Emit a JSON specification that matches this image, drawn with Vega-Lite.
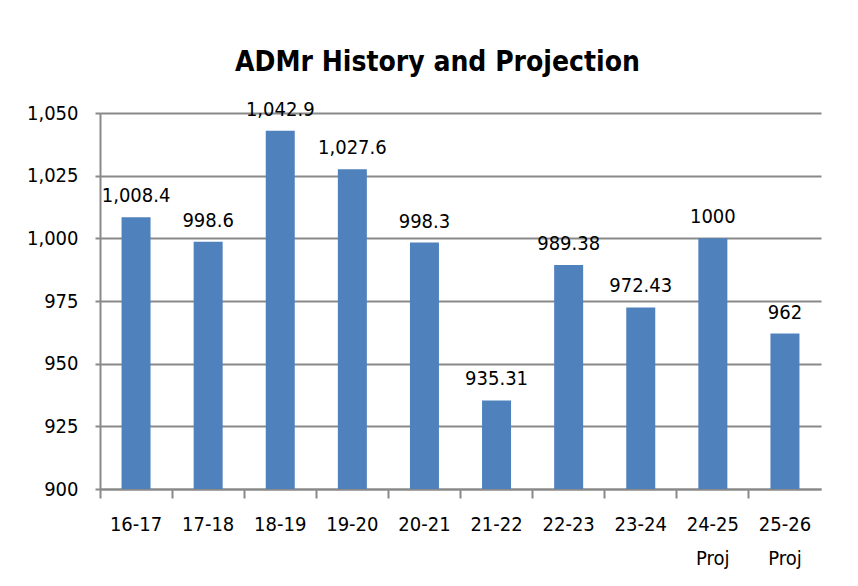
{
  "$schema": "https://vega.github.io/schema/vega-lite/v6.json",
  "width": 721,
  "height": 376,
  "autosize": {"type": "none"},
  "padding": {"left": 100, "top": 113, "right": 37, "bottom": 97},
  "background": "white",
  "title": {
    "text": "ADMr History and Projection",
    "font": "DejaVu Sans Condensed, Liberation Sans",
    "fontSize": 28,
    "fontWeight": "bold",
    "color": "black",
    "anchor": "middle",
    "frame": "group",
    "baseline": "alphabetic",
    "offset": 43,
    "dy": 42,
    "dx": -23
  },
  "data": {
    "values": [
      {"year": "16-17", "value": 1008.4, "label": "1,008.4"},
      {"year": "17-18", "value": 998.6, "label": "998.6"},
      {"year": "18-19", "value": 1042.9, "label": "1,042.9"},
      {"year": "19-20", "value": 1027.6, "label": "1,027.6"},
      {"year": "20-21", "value": 998.3, "label": "998.3"},
      {"year": "21-22", "value": 935.31, "label": "935.31"},
      {"year": "22-23", "value": 989.38, "label": "989.38"},
      {"year": "23-24", "value": 972.43, "label": "972.43"},
      {"year": "24-25 Proj", "value": 1000, "label": "1000"},
      {"year": "25-26 Proj", "value": 962, "label": "962"}
    ]
  },
  "encoding": {
    "x": {
      "field": "year",
      "type": "nominal",
      "sort": null,
      "scale": {"paddingInner": 0, "paddingOuter": 0},
      "axis": {
        "title": null,
        "labelAngle": 0,
        "labelExpr": "split(datum.value, ' ')",
        "labelLineHeight": 34,
        "bandPosition": 0,
        "tickSize": 9,
        "labelPadding": 16,
        "domainColor": "#898989",
        "domainWidth": 2,
        "tickColor": "#898989",
        "tickWidth": 2,
        "grid": false
      }
    },
    "y": {
      "field": "value",
      "type": "quantitative",
      "scale": {"domain": [900, 1050], "nice": false, "zero": false},
      "axis": {
        "title": null,
        "values": [900, 925, 950, 975, 1000, 1025, 1050],
        "format": ",d",
        "tickSize": 5,
        "labelPadding": 17,
        "domainColor": "#898989",
        "domainWidth": 2,
        "tickColor": "#898989",
        "tickWidth": 2,
        "gridColor": "#898989",
        "gridWidth": 2
      }
    }
  },
  "layer": [
    {
      "mark": {"type": "bar", "size": 29, "color": "#4F81BD", "clip": true}
    },
    {
      "mark": {
        "type": "text",
        "font": "DejaVu Sans Condensed, Liberation Sans",
        "fontSize": 20,
        "color": "black",
        "baseline": "alphabetic",
        "dy": -15
      },
      "encoding": {"text": {"field": "label"}}
    }
  ],
  "config": {
    "view": {"stroke": null},
    "axis": {
      "labelFont": "DejaVu Sans Condensed, Liberation Sans",
      "labelFontSize": 20,
      "labelColor": "black"
    }
  }
}
